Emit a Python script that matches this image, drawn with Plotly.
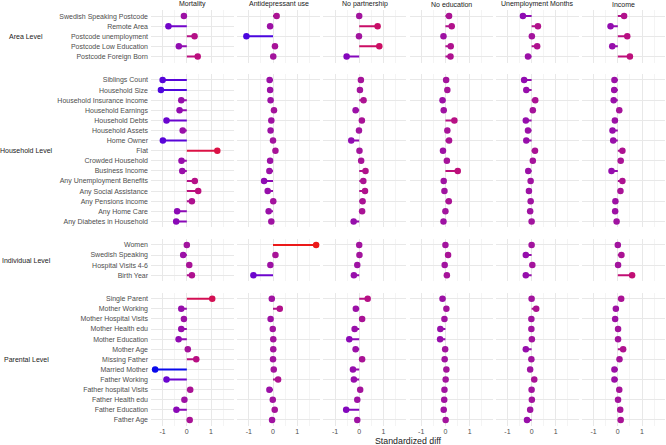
import plotly.graph_objects as go
from plotly.subplots import make_subplots

outcomes = ["Mortality", "Antidepressant use", "No partnership", "No education",
            "Unemployment Months", "Income"]
levels = ["Area Level", "Household Level", "Individual Level", "Parental Level"]

area_vars = ["Swedish Speaking Postcode", "Remote Area", "Postcode unemployment",
             "Postcode Low Education", "Postcode Foreign Born"]
household_vars = ["Siblings Count", "Household Size", "Household Insurance income",
                  "Household Earnings", "Household Debts", "Household Assets", "Home Owner",
                  "Flat", "Crowded Household", "Business Income", "Any Unemployment Benefits",
                  "Any Social Assistance", "Any Pensions income", "Any Home Care",
                  "Any Diabetes in Household"]
individual_vars = ["Women", "Swedish Speaking", "Hospital Visits 4-6", "Birth Year"]
parental_vars = ["Single Parent", "Mother Working", "Mother Hospital Visits", "Mother Health edu",
                 "Mother Education", "Mother Age", "Missing Father", "Married Mother",
                 "Father Working", "Father hospital Visits", "Father Health edu",
                 "Father Education", "Father Age"]

# values in order: area (5), household (15), individual (4), parental (13)
mortality = [-0.12, -0.76, 0.32, -0.33, 0.45,
             -1.00, -1.07, -0.23, -0.30, -0.84, -0.17, -0.99, 1.26, -0.22, -0.19, 0.33, 0.47, 0.21, -0.40, -0.44,
             0.00, -0.15, 0.10, 0.21,
             1.05, -0.23, -0.12, -0.23, -0.34, 0.04, 0.39, -1.31, -0.84, 0.14, -0.10, -0.43, 0.12]
antidepressant = [0.15, -0.12, -1.10, 0.08, 0.01,
                  -0.14, -0.12, -0.10, 0.04, -0.07, -0.10, 0.00, 0.10, -0.12, -0.15, -0.37, -0.22, 0.01, -0.18, -0.07,
                  1.78, 0.10, -0.11, -0.81,
                  -0.05, 0.28, -0.10, -0.01, 0.01, 0.01, 0.00, 0.03, 0.21, -0.15, -0.01, 0.07, -0.04]
no_partnership = [0.00, 0.76, -0.01, 0.83, -0.52,
                  0.07, 0.03, 0.18, -0.15, 0.11, -0.01, -0.33, 0.01, 0.08, 0.26, 0.17, 0.24, 0.14, 0.12, -0.23,
                  0.00, 0.01, -0.08, -0.22,
                  0.35, -0.14, 0.12, -0.19, -0.41, -0.15, 0.12, -0.26, -0.22, 0.04, -0.08, -0.54, -0.08]
no_education = [0.15, 0.26, -0.08, 0.22, 0.21,
                0.03, 0.08, -0.12, -0.07, 0.37, 0.08, 0.15, -0.10, 0.06, 0.51, -0.07, -0.04, 0.14, 0.00, -0.08,
                0.00, 0.11, -0.03, 0.06,
                -0.12, 0.04, -0.04, -0.21, -0.22, -0.01, -0.03, 0.04, 0.01, -0.04, -0.05, -0.07, 0.01]
unemployment_months = [-0.36, 0.26, 0.01, 0.23, -0.15,
                       -0.31, -0.22, 0.15, 0.05, -0.24, -0.15, -0.22, 0.14, 0.05, -0.14, -0.04, -0.11, -0.04, -0.06, 0.00,
                       0.00, -0.24, 0.03, -0.24,
                       0.00, 0.19, -0.01, -0.01, 0.01, -0.24, -0.01, -0.06, 0.11, 0.00, 0.01, -0.06, -0.19]
income = [0.26, -0.30, 0.39, -0.23, 0.50,
          -0.14, -0.15, -0.17, 0.06, -0.12, -0.22, -0.19, 0.19, 0.12, -0.26, 0.19, 0.11, -0.10, -0.11, -0.05,
          0.00, 0.15, 0.01, 0.59,
          0.14, -0.08, -0.11, 0.01, 0.01, 0.22, 0.07, -0.14, -0.14, 0.06, 0.01, 0.10, 0.12]

x_ticks = [-1, 0, 1]
x_tick_labels = ["-1", "0", "1"]

groups = [area_vars, household_vars, individual_vars, parental_vars]
series = [mortality, antidepressant, no_partnership, no_education, unemployment_months, income]

# ---- colour scale: Lab interpolation blue -> purple -> red
def _lin(c):
    c = c / 255.0
    return c / 12.92 if c <= 0.04045 else ((c + 0.055) / 1.055) ** 2.4

def _unlin(c):
    c = max(0.0, c)
    c = 12.92 * c if c <= 0.0031308 else 1.055 * c ** (1 / 2.4) - 0.055
    return max(0, min(255, round(c * 255)))

WX, WY, WZ = 0.95047, 1.0, 1.08883

def rgb2lab(rgb):
    r, g, b = [_lin(v) for v in rgb]
    X = 0.4124 * r + 0.3576 * g + 0.1805 * b
    Y = 0.2126 * r + 0.7152 * g + 0.0722 * b
    Z = 0.0193 * r + 0.1192 * g + 0.9505 * b
    def f(t):
        return t ** (1 / 3) if t > 0.008856 else 7.787 * t + 16 / 116
    fx, fy, fz = f(X / WX), f(Y / WY), f(Z / WZ)
    return 116 * fy - 16, 500 * (fx - fy), 200 * (fy - fz)

def lab2rgb(lab):
    L, a, b = lab
    fy = (L + 16) / 116
    fx = fy + a / 500
    fz = fy - b / 200
    def finv(t):
        return t ** 3 if t ** 3 > 0.008856 else (t - 16 / 116) / 7.787
    X, Y, Z = WX * finv(fx), WY * finv(fy), WZ * finv(fz)
    r = 3.2406 * X - 1.5372 * Y - 0.4986 * Z
    g = -0.9689 * X + 1.8758 * Y + 0.0415 * Z
    bb = 0.0557 * X - 0.2040 * Y + 1.0570 * Z
    return "rgb(%d,%d,%d)" % (_unlin(r), _unlin(g), _unlin(bb))

LOW = rgb2lab((10, 10, 235))
MID = rgb2lab((162, 20, 158))
HIGH = rgb2lab((235, 25, 25))
all_vals = [v for s in series for v in s]
vmin, vmax = min(all_vals), max(all_vals)

def colour(v):
    if v < 0:
        t = v / vmin
        a, b = MID, LOW
    else:
        t = v / vmax
        a, b = MID, HIGH
    return lab2rgb(tuple(p + (q - p) * t for p, q in zip(a, b)))

# ---- layout
row_h = [len(g) + 0.2 for g in groups]
fig = make_subplots(rows=4, cols=6, row_heights=row_h, shared_yaxes=True,
                    horizontal_spacing=0.0062, vertical_spacing=0.0274)

offsets = [0]
for g in groups:
    offsets.append(offsets[-1] + len(g))

for ci, vals in enumerate(series):
    for ri, g in enumerate(groups):
        sub = vals[offsets[ri]:offsets[ri + 1]]
        for cat, v in zip(g, sub):
            fig.add_trace(go.Scatter(x=[0, v], y=[cat, cat], mode="lines",
                                     line=dict(color=colour(v), width=2),
                                     hoverinfo="skip", showlegend=False),
                          row=ri + 1, col=ci + 1)
        fig.add_trace(go.Scatter(x=sub, y=g, mode="markers",
                                 marker=dict(color=[colour(v) for v in sub], size=6.5),
                                 showlegend=False),
                      row=ri + 1, col=ci + 1)

FONT = "Liberation Sans, Arial, sans-serif"
for ri, g in enumerate(groups):
    for ci in range(6):
        fig.update_xaxes(range=[-1.48, 1.95], tickvals=x_ticks, ticktext=x_tick_labels,
                         showticklabels=(ri == 3), showgrid=True, gridcolor="#E8E8E8",
                         gridwidth=1, zeroline=False, showline=False, ticks="",
                         minor=dict(dtick=1, tick0=0.5, showgrid=True, gridcolor="#F4F4F4",
                                    gridwidth=1),
                         tickfont=dict(size=7, color="#4D4D4D", family=FONT),
                         row=ri + 1, col=ci + 1)
        fig.update_yaxes(type="category", categoryorder="array", categoryarray=g,
                         range=[len(g) - 0.4, -0.6], showticklabels=(ci == 0),
                         showgrid=True, gridcolor="#E8E8E8", gridwidth=1, zeroline=False,
                         showline=False, ticks="", ticklabelstandoff=2,
                         tickfont=dict(size=7, color="#4D4D4D", family=FONT),
                         row=ri + 1, col=ci + 1)

annotations = []
for ci, name in enumerate(outcomes):
    xa = fig.layout["xaxis" if ci == 0 else "xaxis%d" % (ci + 1)]
    d = xa.domain
    annotations.append(dict(text=name, x=(d[0] + d[1]) / 2, y=1.0135, xref="paper",
                            yref="paper", showarrow=False, xanchor="center", yanchor="middle",
                            font=dict(size=7, color="#1A1A1A", family=FONT)))
for ri, name in enumerate(levels):
    ya = fig.layout["yaxis" if ri == 0 else "yaxis%d" % (ri * 6 + 1)]
    d = ya.domain
    annotations.append(dict(text=name, x=-0.243, y=(d[0] + d[1]) / 2, xref="paper",
                            yref="paper", showarrow=False, xanchor="center", yanchor="middle",
                            font=dict(size=7, color="#1A1A1A", family=FONT)))
annotations.append(dict(text="Standardized diff", x=0.5, y=-0.036, xref="paper", yref="paper",
                        showarrow=False, xanchor="center", yanchor="middle",
                        font=dict(size=8.8, color="#1A1A1A", family=FONT)))

fig.update_layout(width=666, height=445, margin=dict(l=151, r=1, t=10, b=19),
                  paper_bgcolor="white", plot_bgcolor="white", annotations=annotations,
                  font=dict(family=FONT), showlegend=False)

fig.write_html("out.html")
